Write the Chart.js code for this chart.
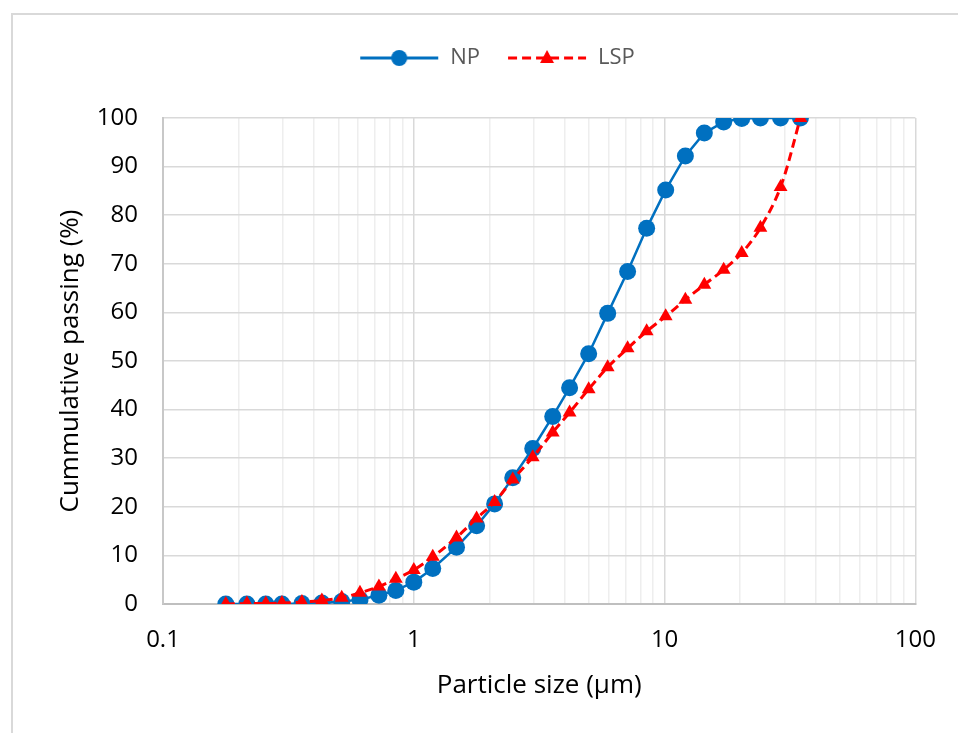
<!DOCTYPE html>
<html>
<head>
<meta charset="utf-8">
<script src="https://cdn.jsdelivr.net/npm/chart.js@4.4.0/dist/chart.umd.min.js"></script>
<style>
  html, body { margin: 0; padding: 0; background: #fff; }
  .frame { position: absolute; left: 11px; top: 13px; width: 960px; height: 740px; border: 2px solid #d9d9d9; box-sizing: border-box; }
  .wrap { position: absolute; left: 0; top: 0; width: 958px; height: 733px; }
</style>
</head>
<body>
<div class="frame"></div>
<div class="wrap"><canvas id="psdChart" width="958" height="733"></canvas></div>
<script>
// particle size classes (µm)
const sizes = [0.178, 0.216, 0.257, 0.298, 0.358, 0.430, 0.516, 0.610, 0.726, 0.848,
  1.0, 1.19, 1.48, 1.78, 2.10, 2.48, 2.98, 3.58, 4.18, 4.98,
  5.93, 7.12, 8.48, 10.1, 12.1, 14.4, 17.2, 20.3, 24.1, 29.0, 34.8];

// cumulative passing (%)
const npPassing = [0, 0, 0, 0, 0.1, 0.2, 0.5, 0.9, 1.8, 2.8,
  4.5, 7.3, 11.7, 16.1, 20.6, 26.0, 32.0, 38.6, 44.5, 51.5,
  59.8, 68.4, 77.3, 85.2, 92.2, 96.9, 99.2, 99.9, 100, 100, 100];
const lspPassing = [0, 0.1, 0.1, 0.2, 0.4, 0.7, 1.3, 2.3, 3.6, 5.2,
  7.0, 9.7, 13.7, 17.6, 21.0, 25.6, 30.2, 35.3, 39.4, 44.2,
  48.7, 52.6, 56.1, 59.2, 62.6, 65.7, 68.8, 72.2, 77.4, 85.8, 100];

const seriesNames = ['NP', 'LSP'];
const xDecades = [0.1, 1, 10, 100];
const yMin = 0, yMax = 100, yStep = 10;

const FONT = "'Open Sans', 'DejaVu Sans', sans-serif";
const NP_COLOR = '#0070C0';
const LSP_COLOR = '#FF0000';

// legend symbol: line with marker in the middle, like Excel
function legendSymbol(color, dashed, marker) {
  const c = document.createElement('canvas');
  c.width = 80; c.height = 20;
  const g = c.getContext('2d');
  g.strokeStyle = color;
  g.lineWidth = 3;
  if (dashed) g.setLineDash([9, 5]);
  g.beginPath(); g.moveTo(1, 10); g.lineTo(79, 10); g.stroke();
  g.setLineDash([]);
  g.fillStyle = color;
  g.beginPath();
  if (marker === 'circle') {
    g.arc(40, 10, 8, 0, Math.PI * 2);
  } else {
    g.moveTo(40, 2); g.lineTo(47, 15); g.lineTo(33, 15); g.closePath();
  }
  g.fill();
  return c;
}
const legendIcons = [legendSymbol(NP_COLOR, false, 'circle'), legendSymbol(LSP_COLOR, true, 'triangle')];

const legendTweak = {
  id: 'legendTweak',
  beforeInit(chart) {
    const fit = chart.legend.fit;
    chart.legend.fit = function () {
      fit.call(this);
      this.height = 98;
    };
  },
  afterLayout(chart) {
    chart.legend.left += 14;
    chart.legend.right += 14;
  }
};

new Chart(document.getElementById('psdChart'), {
  type: 'line',
  data: {
    datasets: [
      {
        label: seriesNames[0],
        data: sizes.map((s, i) => ({ x: s, y: npPassing[i] })),
        borderColor: NP_COLOR,
        backgroundColor: NP_COLOR,
        borderWidth: 2.5,
        pointStyle: 'circle',
        pointRadius: 8.5,
        pointBorderWidth: 0,
        tension: 0,
        order: 1
      },
      {
        label: seriesNames[1],
        data: sizes.map((s, i) => ({ x: s, y: lspPassing[i] })),
        borderColor: LSP_COLOR,
        backgroundColor: LSP_COLOR,
        borderWidth: 3,
        borderDash: [9, 5],
        pointStyle: 'triangle',
        pointRadius: 8,
        pointBorderWidth: 0,
        tension: 0.35,
        order: 0
      }
    ]
  },
  options: {
    responsive: false,
    animation: false,
    layout: { padding: { left: 50, right: 42, top: 20, bottom: 30 } },
    plugins: {
      tooltip: { enabled: false },
      legend: {
        position: 'top',
        labels: {
          usePointStyle: true,
          pointStyleWidth: 80,
          padding: 27,
          color: '#595959',
          font: { family: FONT, size: 22 },
          generateLabels: () => seriesNames.map((name, i) => ({
            text: name,
            pointStyle: legendIcons[i],
            fontColor: '#595959',
            lineWidth: 0,
            datasetIndex: i
          }))
        }
      }
    },
    scales: {
      x: {
        type: 'logarithmic',
        min: xDecades[0],
        max: xDecades[xDecades.length - 1],
        afterBuildTicks: (scale) => {
          const t = [];
          for (let d = 0; d < xDecades.length - 1; d++) {
            for (let m = 1; m <= 9; m++) t.push({ value: xDecades[d] * m, major: m === 1 });
          }
          t.push({ value: xDecades[xDecades.length - 1], major: true });
          scale.ticks = t;
        },
        afterFit: (scale) => { scale.height = 99; },
        ticks: {
          autoSkip: false,
          maxRotation: 0,
          padding: 22,
          color: '#000',
          font: { family: FONT, size: 24 },
          callback: (value, index, ticks) => ticks[index].major ? String(value) : ''
        },
        grid: {
          drawTicks: false,
          color: (ctx) => (ctx.tick && ctx.tick.major) ? '#d9d9d9' : '#eeeeee',
          lineWidth: 1.5
        },
        border: { color: '#bfbfbf', width: 2 },
        title: {
          display: true,
          text: 'Particle size (µm)',
          color: '#000',
          font: { family: FONT, size: 26 },
          padding: { top: 0, bottom: 2 }
        }
      },
      y: {
        min: yMin,
        max: yMax,
        afterFit: (scale) => { scale.width = 113; },
        ticks: {
          stepSize: yStep,
          padding: 25,
          color: '#000',
          font: { family: FONT, size: 24 }
        },
        grid: { drawTicks: false, color: '#d9d9d9', lineWidth: 1.5 },
        border: { color: '#c8c8c8', width: 2 },
        title: {
          display: true,
          text: 'Cummulative passing (%)',
          color: '#000',
          font: { family: FONT, size: 26 },
          padding: { top: 5, bottom: 0 }
        }
      }
    }
  },
  plugins: [legendTweak]
});
</script>
</body>
</html>
